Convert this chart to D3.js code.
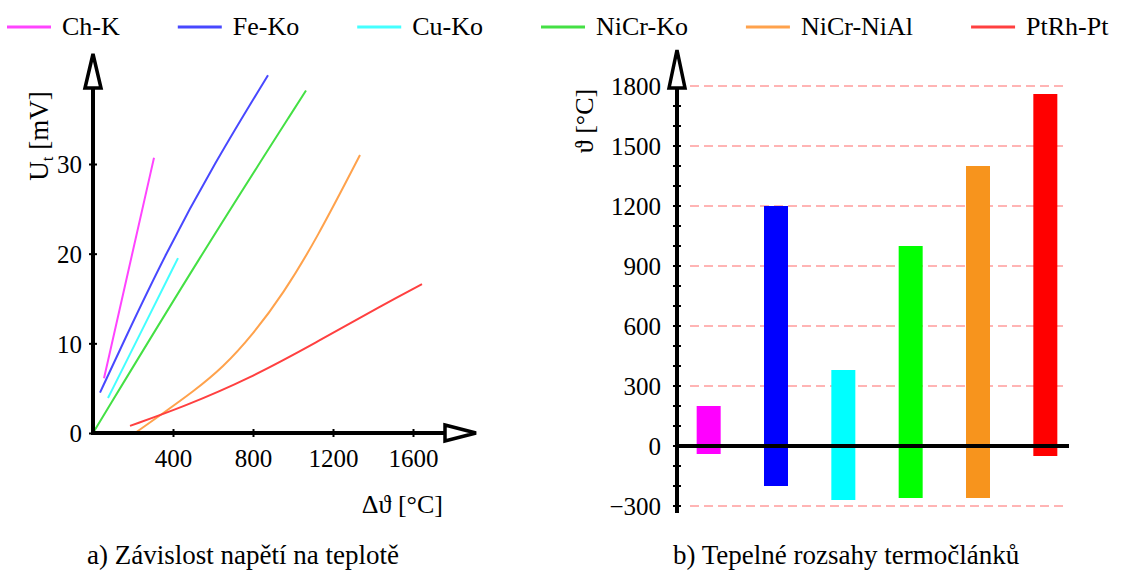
<!DOCTYPE html>
<html>
<head>
<meta charset="utf-8">
<script src="https://cdn.jsdelivr.net/npm/d3@7"></script>
<style>
  body { margin: 0; background: #fff; }
  svg { display: block; font-family: "Liberation Serif", "Times New Roman", serif; }
</style>
</head>
<body>
<div class="canvas"></div>
<script>
// ---- data ----
const names = ["Ch-K", "Fe-Ko", "Cu-Ko", "NiCr-Ko", "NiCr-NiAl", "PtRh-Pt"];
const lineColors = ["#ff44ff", "#4848ff", "#44ffff", "#44e044", "#ffa24c", "#ff4040"];
const barColors = ["#ff00ff", "#0000ff", "#00ffff", "#00ff00", "#f7941d", "#ff0000"];

// thermocouple voltage curves: [temperature °C, voltage mV]
const chK = [[55, 6.1], [180, 18.4], [305, 30.7]];
const feKo = [[35, 4.5], [145, 9.8], [360, 19.9], [610, 30.2], [875, 39.9]];
const cuKo = [[75, 3.9], [250, 11.7], [425, 19.5]];
const niCrKo = [[0, 0], [535, 19.7], [1065, 38.2]];
const niCrNiAl = [[210, 0], [350, 2.2], [500, 4.6], [650, 7.3], [800, 11], [950, 15.5], [1117, 21.6], [1335, 31]];
const ptRhPt = [[185, 0.8], [450, 2.9], [785, 6.1], [1117, 10.1], [1450, 14.3], [1645, 16.6]];
const curves = [chK, feKo, cuKo, niCrKo, niCrNiAl, ptRhPt];

// temperature ranges (°C)
const rangeMin = [-40, -200, -270, -260, -260, -50];
const rangeMax = [200, 1200, 380, 1000, 1400, 1760];

const uTicks = [0, 10, 20, 30];
const tTicks = [400, 800, 1200, 1600];
const rangeTicks = [-300, 0, 300, 600, 900, 1200, 1500, 1800];
const rangeMinorTicks = d3.range(-300, 1800, 100);

// ---- svg ----
const svg = d3.select('.canvas')
  .append('svg')
    .attr('width', 1133)
    .attr('height', 570);

// legend across the top, items placed one after another
const legend = svg.append('g').attr('class', 'legend');
let lx = 7;
names.forEach((n, i) => {
  legend.append('line')
    .attr('x1', lx).attr('x2', lx + 44)
    .attr('y1', 27).attr('y2', 27)
    .attr('stroke', lineColors[i])
    .attr('stroke-width', 3);
  const t = legend.append('text')
    .attr('x', lx + 55).attr('y', 35)
    .attr('font-size', 26)
    .text(n);
  lx += 55 + t.node().getComputedTextLength() + 58;
});

// hollow arrow head helper
const arrow = (g, pts) => {
  g.append('path')
    .attr('d', d3.line()(pts) + 'Z')
    .attr('fill', '#fff')
    .attr('stroke', '#000')
    .attr('stroke-width', 3.5)
    .attr('stroke-linejoin', 'miter');
};

const fmt = d3.format('d');

// ================= a) voltage vs temperature =================
const xT = d3.scaleLinear().domain([0, 1600]).range([93, 413]);
const yU = d3.scaleLinear().domain([0, 30]).range([433, 164]);

const left = svg.append('g');

const curveLine = d3.line()
  .x(d => xT(d[0]))
  .y(d => yU(d[1]))
  .curve(d3.curveBasis);

left.selectAll('path.curve')
  .data(curves)
  .enter()
  .append('path')
    .attr('class', 'curve')
    .attr('d', curveLine)
    .attr('fill', 'none')
    .attr('stroke', (d, i) => lineColors[i])
    .attr('stroke-width', 2);

// axis lines
left.append('line')
  .attr('x1', xT(0)).attr('x2', 445)
  .attr('y1', yU(0)).attr('y2', yU(0))
  .attr('stroke', '#000').attr('stroke-width', 4);
left.append('line')
  .attr('x1', xT(0)).attr('x2', xT(0))
  .attr('y1', yU(0) + 2).attr('y2', 88)
  .attr('stroke', '#000').attr('stroke-width', 4);
arrow(left, [[445, 425], [476, 433], [445, 441]]);
arrow(left, [[85, 88], [93, 54], [101, 88]]);

const xAxis = left.append('g')
  .attr('transform', `translate(0,${yU(0)})`)
  .call(d3.axisBottom(xT).tickValues(tTicks).tickFormat(fmt).tickSize(4).tickPadding(12));
const yAxis = left.append('g')
  .attr('transform', `translate(${xT(0)},0)`)
  .call(d3.axisLeft(yU).tickValues(uTicks).tickFormat(fmt).tickSize(4).tickPadding(7));

[xAxis, yAxis].forEach(a => {
  a.select('.domain').remove();
  a.selectAll('text')
    .attr('font-family', '"Liberation Serif", serif')
    .attr('font-size', 25)
    .attr('fill', '#000');
  a.selectAll('line').attr('stroke', '#000').attr('stroke-width', 2);
});
xAxis.selectAll('line').attr('y1', -4).attr('y2', 4);
xAxis.selectAll('text').attr('dy', '0.71em');
yAxis.selectAll('line').attr('x1', -4).attr('x2', 4);
yAxis.selectAll('text').attr('dy', '0.35em');

left.append('text')
  .attr('x', 443).attr('y', 513)
  .attr('text-anchor', 'end')
  .attr('font-size', 26)
  .text('Δϑ [°C]');

const uLabel = left.append('text')
  .attr('transform', 'translate(48,136) rotate(-90)')
  .attr('text-anchor', 'middle')
  .attr('font-size', 27);
uLabel.append('tspan').text('U');
uLabel.append('tspan').attr('font-size', 17).attr('dy', 5).text('t');
uLabel.append('tspan').attr('dy', -5).text(' [mV]');

left.append('text')
  .attr('x', 87).attr('y', 564)
  .attr('font-size', 27)
  .text('a) Závislost napětí na teplotě');

// ================= b) temperature ranges =================
const xB = d3.scalePoint().domain(names).range([675, 1079]).padding(0.5);
const yR = d3.scaleLinear().domain([-300, 1800]).range([506, 86]);
const barW = 24;

const right = svg.append('g');

// dashed grid
right.selectAll('line.grid')
  .data(rangeTicks.filter(v => v !== 0))
  .enter()
  .append('line')
    .attr('class', 'grid')
    .attr('x1', 690).attr('x2', 1068)
    .attr('y1', d => yR(d)).attr('y2', d => yR(d))
    .attr('stroke', '#ff9c9c')
    .attr('stroke-width', 1.5)
    .attr('stroke-dasharray', '9,5');

right.selectAll('rect.bar')
  .data(names)
  .enter()
  .append('rect')
    .attr('class', 'bar')
    .attr('x', d => xB(d) - barW / 2)
    .attr('width', barW)
    .attr('y', (d, i) => yR(rangeMax[i]))
    .attr('height', (d, i) => yR(rangeMin[i]) - yR(rangeMax[i]))
    .attr('fill', (d, i) => barColors[i]);

// zero line
right.append('line')
  .attr('x1', 677).attr('x2', 1069)
  .attr('y1', yR(0)).attr('y2', yR(0))
  .attr('stroke', '#000').attr('stroke-width', 4);

// vertical axis
right.append('line')
  .attr('x1', 677).attr('x2', 677)
  .attr('y1', 513).attr('y2', 88)
  .attr('stroke', '#000').attr('stroke-width', 4);
arrow(right, [[669, 88], [677, 50], [685, 88]]);

right.selectAll('line.minor')
  .data(rangeMinorTicks)
  .enter()
  .append('line')
    .attr('class', 'minor')
    .attr('x1', 673).attr('x2', 681)
    .attr('y1', d => yR(d)).attr('y2', d => yR(d))
    .attr('stroke', '#000').attr('stroke-width', 2);

const rAxis = right.append('g')
  .attr('transform', 'translate(677,0)')
  .call(d3.axisLeft(yR).tickValues(rangeTicks).tickFormat(fmt).tickSize(0).tickPadding(16));
rAxis.select('.domain').remove();
rAxis.selectAll('text')
  .attr('font-family', '"Liberation Serif", serif')
  .attr('font-size', 25)
  .attr('fill', '#000')
  .attr('dy', '0.35em');

right.append('text')
  .attr('transform', 'translate(593,121) rotate(-90)')
  .attr('text-anchor', 'middle')
  .attr('font-size', 26)
  .text('ϑ [°C]');

right.append('text')
  .attr('x', 673).attr('y', 564)
  .attr('font-size', 27)
  .text('b) Tepelné rozsahy termočlánků');
</script>
</body>
</html>
